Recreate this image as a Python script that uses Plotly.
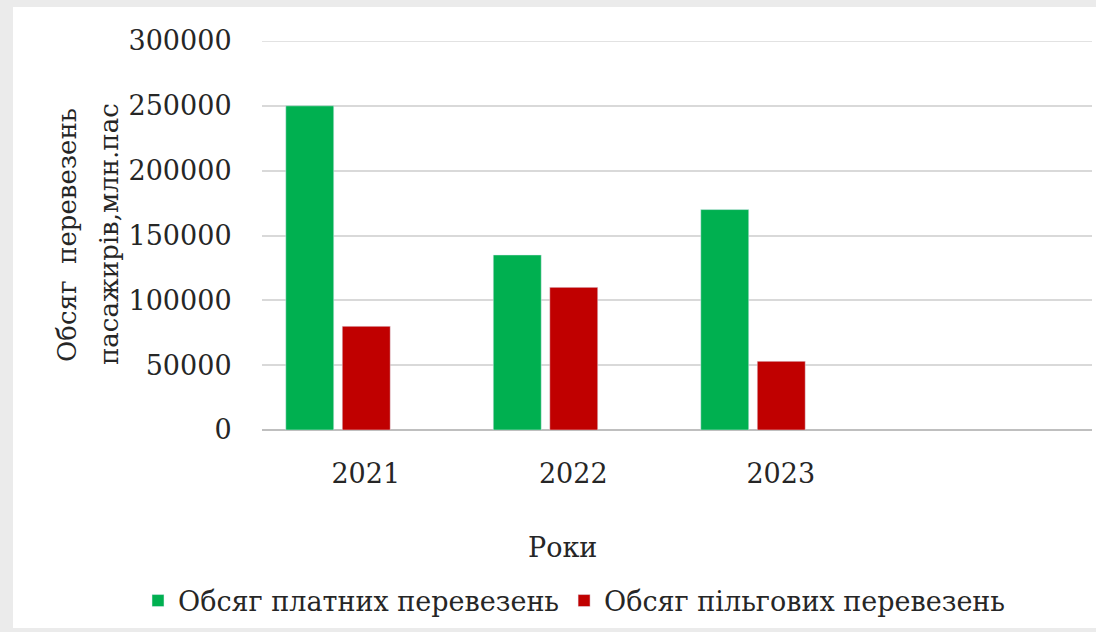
import plotly.graph_objects as go

years = ["2021", "2022", "2023"]
paid = [250000, 135000, 170000]
privileged = [80000, 110000, 53000]
series_names = ["Обсяг платних перевезень", "Обсяг пільгових перевезень"]
y_ticks = [0, 50000, 100000, 150000, 200000, 250000, 300000]
y_title_lines = ["Обсяг  перевезень", "пасажирів,млн.пас"]
x_title = "Роки"

W, H = 1096, 632
ML, MR, MT, MB = 262, 4, 41, 202
PW, PH = W - ML - MR, H - MT - MB

def px_x(p):
    return (p - ML) / PW

def px_y(p):
    return (H - MB - p) / PH

FONT = "DejaVu Serif"
FS = 27
TXT = "#262626"
CAT_PX = PW / 4.0
BAR_W = 48 / CAT_PX

fig = go.Figure()
fig.add_trace(go.Bar(x=years, y=paid, name=series_names[0], marker_color="#00b050",
                     width=BAR_W, offset=-80 / CAT_PX))
fig.add_trace(go.Bar(x=years, y=privileged, name=series_names[1], marker_color="#c00000",
                     width=BAR_W, offset=-23.5 / CAT_PX))

fig.update_layout(
    width=W, height=H,
    margin=dict(l=ML, r=MR, t=MT, b=MB),
    paper_bgcolor="#ebebeb",
    plot_bgcolor="white",
    barmode="overlay",
    font=dict(family=FONT, size=FS, color=TXT),
    showlegend=True,
    legend=dict(
        orientation="h", x=px_x(138), xanchor="left", y=px_y(601), yanchor="middle",
        font=dict(family=FONT, size=FS, color=TXT), bgcolor="rgba(0,0,0,0)",
        traceorder="normal",
    ),
    xaxis=dict(
        type="category", categoryorder="array", categoryarray=years + [" "],
        range=[-0.5, 3.5], showgrid=False, showline=False, zeroline=False,
        ticks="outside", ticklen=20, tickcolor="rgba(0,0,0,0)",
        tickfont=dict(family=FONT, size=FS, color=TXT),
    ),
    yaxis=dict(
        range=[0, 300000], tickvals=y_ticks, ticktext=[str(v) for v in y_ticks],
        showgrid=True, gridcolor="#d9d9d9", gridwidth=1.5,
        zeroline=True, zerolinecolor="#bfbfbf", zerolinewidth=1.5,
        showline=False, ticks="outside", ticklen=24, tickcolor="rgba(0,0,0,0)",
        tickfont=dict(family=FONT, size=FS, color=TXT),
    ),
    shapes=[
        dict(type="rect", xref="paper", yref="paper",
             x0=px_x(13), x1=px_x(W + 5), y0=px_y(628), y1=px_y(7),
             fillcolor="white", line=dict(width=0), layer="below"),
        dict(type="line", xref="paper", yref="y",
             x0=0, x1=1, y0=300000, y1=300000,
             line=dict(color="#d9d9d9", width=1.5), layer="below"),
    ],
    annotations=[
        dict(text=y_title_lines[0], xref="paper", yref="paper",
             x=px_x(67), y=px_y(235), xanchor="center", yanchor="middle",
             textangle=-90, showarrow=False, font=dict(family=FONT, size=26, color=TXT)),
        dict(text=y_title_lines[1], xref="paper", yref="paper",
             x=px_x(109), y=px_y(234), xanchor="center", yanchor="middle",
             textangle=-90, showarrow=False, font=dict(family=FONT, size=26, color=TXT)),
        dict(text=x_title, xref="paper", yref="paper",
             x=px_x(562), y=px_y(547), xanchor="center", yanchor="middle",
             showarrow=False, font=dict(family=FONT, size=FS, color=TXT)),
    ],
)

fig.write_html(
    "out.html",
    config={"displayModeBar": False},
    post_script="document.body.style.margin='0';document.body.style.background='#ebebeb';",
)
